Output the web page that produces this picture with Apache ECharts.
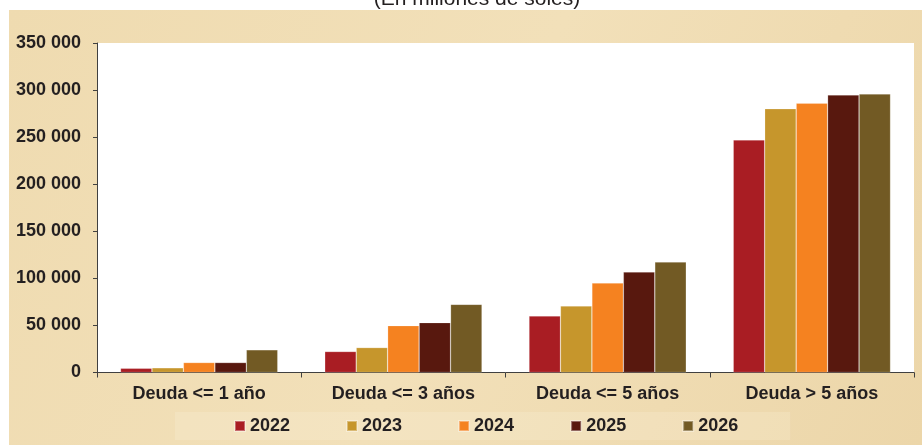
<!DOCTYPE html>
<html>
<head>
<meta charset="utf-8">
<script src="https://cdn.jsdelivr.net/npm/echarts@6/dist/echarts.min.js"></script>
<style>
  html, body { margin: 0; padding: 0; background: #ffffff; }
  #main { width: 922px; height: 445px; }
</style>
</head>
<body>
<div id="main"></div>
<script>
var chartDom = document.getElementById('main');
var myChart = echarts.init(chartDom);
var option;

// Categories on the x axis
const categories = ['Deuda <= 1 año', 'Deuda <= 3 años', 'Deuda <= 5 años', 'Deuda > 5 años'];
// One series per year (millones de soles)
const years = ['2022', '2023', '2024', '2025', '2026'];
const values2022 = [4500, 22300, 60000, 247000];
const values2023 = [5000, 26500, 70600, 280200];
const values2024 = [10600, 49800, 95000, 286000];
const values2025 = [10600, 53000, 106700, 294800];
const values2026 = [24100, 72400, 117300, 295800];
const yearColors = ['#A91D23', '#C6962C', '#F58220', '#58180E', '#725A24'];

const seriesValues = [values2022, values2023, values2024, values2025, values2026];
const textColor = '#231F20';
const font = 'Liberation Sans, Arial, sans-serif';

let series = [];
years.forEach(function (year, idx) {
  series.push({
    name: year,
    type: 'bar',
    data: seriesValues[idx],
    barGap: '0%',
    barCategoryGap: '23%',
    itemStyle: {
      color: yearColors[idx],
      borderColor: 'rgba(255,255,255,0.35)',
      borderWidth: 0.6
    }
  });
});

option = {
  backgroundColor: '#ffffff',
  animation: false,
  graphic: [
    {
      // parchment-like panel behind the chart
      type: 'rect',
      z: -10,
      shape: { x: 9, y: 10, width: 913, height: 435 },
      style: {
        fill: new echarts.graphic.LinearGradient(0, 0, 1, 1, [
          { offset: 0, color: '#EFDBB0' },
          { offset: 0.5, color: '#F2E0B9' },
          { offset: 1, color: '#ECD6A9' }
        ])
      }
    },
    {
      type: 'text',
      x: 477,
      y: -11,
      z: 10,
      style: {
        text: '(En millones de soles)',
        font: '21px ' + font,
        fill: textColor,
        textAlign: 'center'
      }
    }
  ],
  grid: {
    left: 97,
    top: 43,
    right: 8,
    bottom: 72.5,
    show: true,
    backgroundColor: '#ffffff',
    borderWidth: 0
  },
  legend: {
    data: years,
    left: 175,
    top: 412,
    itemWidth: 10,
    itemHeight: 10,
    itemGap: 56,
    padding: [5, 52, 5, 59],
    backgroundColor: 'rgba(255,250,235,0.18)',
    icon: 'rect',
    textStyle: {
      color: textColor,
      fontSize: 18,
      fontWeight: 'bold',
      fontFamily: font
    }
  },
  xAxis: {
    type: 'category',
    data: categories,
    axisLine: { lineStyle: { color: '#404040', width: 1 } },
    axisTick: { show: true, length: 5, alignWithLabel: false, lineStyle: { color: '#404040' } },
    axisLabel: {
      margin: 13,
      color: textColor,
      fontSize: 18,
      fontWeight: 'bold',
      fontFamily: font
    }
  },
  yAxis: {
    type: 'value',
    min: 0,
    max: 350000,
    interval: 50000,
    splitLine: { show: false },
    axisLine: { show: true, lineStyle: { color: '#404040', width: 1 } },
    axisTick: { show: true, length: 4, lineStyle: { color: '#404040' } },
    axisLabel: {
      margin: 16,
      color: textColor,
      fontSize: 18,
      fontWeight: 'bold',
      fontFamily: font,
      formatter: function (v) {
        return String(v).replace(/\B(?=(\d{3})+(?!\d))/g, ' ');
      }
    }
  },
  series: series
};

option && myChart.setOption(option);
</script>
</body>
</html>
